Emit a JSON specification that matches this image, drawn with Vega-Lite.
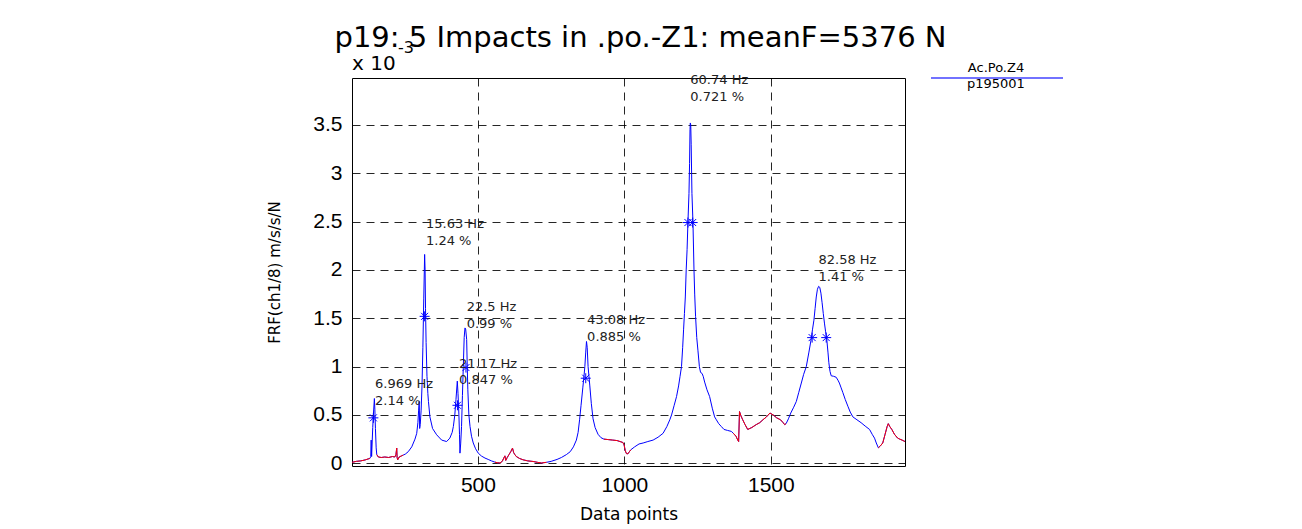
{
  "$schema": "https://vega.github.io/schema/vega-lite/v6.json",
  "width": 553,
  "height": 388,
  "autosize": {"type": "none"},
  "padding": {"left": 352, "top": 78, "right": 397, "bottom": 63},
  "background": "white",
  "title": {
    "text": "p19:  5 Impacts in .po.-Z1: meanF=5376 N",
    "font": "DejaVu Sans",
    "fontSize": 29,
    "fontWeight": "normal",
    "color": "#000",
    "anchor": "middle",
    "baseline": "alphabetic",
    "offset": -36,
    "dx": 12
  },
  "config": {
    "view": {"stroke": "#000", "strokeWidth": 1},
    "axis": {
      "grid": true,
      "gridColor": "#000",
      "gridDash": [8, 6],
      "gridWidth": 1,
      "gridOpacity": 0.85,
      "ticks": false,
      "domain": false,
      "labelFont": "Liberation Sans",
      "labelFontSize": 21,
      "labelColor": "#000",
      "titleFont": "DejaVu Sans",
      "titleFontWeight": "normal",
      "titleColor": "#000"
    },
    "axisX": {"labelPadding": 8, "titleFontSize": 17, "titlePadding": 11},
    "axisY": {"labelPadding": 10, "titleFontSize": 15, "titlePadding": 30}
  },
  "datasets": {
    "curve": [
      {"x":70,"y":0.01,"s":"r1"},{"x":85,"y":0.02,"s":"r1"},{"x":100,"y":0.025,"s":"r1"},{"x":115,"y":0.035,"s":"r1"},{"x":125,"y":0.045,"s":"r1"},{"x":131,"y":0.05,"s":"r1"},
      {"x":134,"y":0.07,"s":"b"},{"x":135.5,"y":0.24,"s":"b"},{"x":137,"y":0.07,"s":"b"},{"x":140.8,"y":0.37,"s":"b"},{"x":143,"y":0.5,"s":"b"},{"x":146.4,"y":0.67,"s":"b"},{"x":148,"y":0.56,"s":"b"},{"x":150,"y":0.36,"s":"b"},{"x":152.5,"y":0.16,"s":"b"},
      {"x":154.6,"y":0.09,"s":"r2"},{"x":160,"y":0.065,"s":"r2"},{"x":170,"y":0.06,"s":"r2"},{"x":182,"y":0.065,"s":"r2"},{"x":195,"y":0.06,"s":"r2"},{"x":208,"y":0.07,"s":"r2"},{"x":216,"y":0.065,"s":"r2"},{"x":220,"y":0.09,"s":"r2"},{"x":222.7,"y":0.157,"s":"r2"},{"x":224,"y":0.06,"s":"r2"},{"x":226,"y":0.036,"s":"r2"},{"x":231,"y":0.065,"s":"r2"},{"x":238,"y":0.075,"s":"r2"},{"x":245,"y":0.085,"s":"r2"},
      {"x":252,"y":0.095,"s":"b"},{"x":262,"y":0.12,"s":"b"},{"x":274,"y":0.17,"s":"b"},{"x":285,"y":0.25,"s":"b"},{"x":291,"y":0.31,"s":"b"},{"x":295,"y":0.42,"s":"b"},{"x":297.5,"y":0.55,"s":"b"},{"x":299.5,"y":0.64,"s":"b"},{"x":301,"y":0.36,"s":"b"},{"x":303,"y":0.4,"s":"b"},{"x":306,"y":0.55,"s":"b"},{"x":309,"y":0.8,"s":"b"},{"x":312,"y":1.2,"s":"b"},{"x":315,"y":1.7,"s":"b"},{"x":318,"y":2.16,"s":"b"},{"x":319.5,"y":2.0,"s":"b"},{"x":321,"y":1.6,"s":"b"},{"x":323,"y":1.25,"s":"b"},{"x":326,"y":0.9,"s":"b"},{"x":329,"y":0.72,"s":"b"},{"x":331,"y":0.64,"s":"b"},{"x":336,"y":0.48,"s":"b"},{"x":345,"y":0.36,"s":"b"},{"x":359,"y":0.295,"s":"b"},{"x":376,"y":0.24,"s":"b"},{"x":393,"y":0.225,"s":"b"},{"x":404,"y":0.26,"s":"b"},{"x":412,"y":0.32,"s":"b"},{"x":416,"y":0.38,"s":"b"},{"x":421,"y":0.5,"s":"b"},{"x":425,"y":0.66,"s":"b"},{"x":429.5,"y":0.85,"s":"b"},{"x":432,"y":0.72,"s":"b"},{"x":435,"y":0.5,"s":"b"},{"x":437,"y":0.3,"s":"b"},{"x":438.6,"y":0.105,"s":"b"},{"x":441,"y":0.2,"s":"b"},{"x":444,"y":0.38,"s":"b"},{"x":447,"y":0.7,"s":"b"},{"x":450,"y":1.0,"s":"b"},{"x":453,"y":1.3,"s":"b"},{"x":455.7,"y":1.4,"s":"b"},{"x":458,"y":1.39,"s":"b"},{"x":461.5,"y":1.28,"s":"b"},{"x":463.5,"y":1.0,"s":"b"},{"x":465.5,"y":0.76,"s":"b"},{"x":469,"y":0.5,"s":"b"},{"x":473,"y":0.38,"s":"b"},{"x":478,"y":0.28,"s":"b"},{"x":484,"y":0.21,"s":"b"},{"x":492,"y":0.15,"s":"b"},{"x":501,"y":0.105,"s":"b"},{"x":512,"y":0.075,"s":"b"},{"x":524,"y":0.054,"s":"b"},{"x":535,"y":0.04,"s":"b"},{"x":546,"y":0.025,"s":"b"},
      {"x":558,"y":0.012,"s":"r3"},{"x":566,"y":0.006,"s":"r3"},{"x":575,"y":0.003,"s":"r3"},{"x":583,"y":0.02,"s":"r3"},{"x":589,"y":0.06,"s":"r3"},{"x":592,"y":0.077,"s":"r3"},{"x":595,"y":0.03,"s":"r3"},{"x":600,"y":0.06,"s":"r3"},{"x":606,"y":0.09,"s":"r3"},{"x":612,"y":0.12,"s":"r3"},{"x":618,"y":0.157,"s":"r3"},{"x":622,"y":0.11,"s":"r3"},{"x":626,"y":0.09,"s":"r3"},{"x":631,"y":0.07,"s":"r3"},{"x":642,"y":0.05,"s":"r3"},{"x":654,"y":0.036,"s":"r3"},{"x":670,"y":0.025,"s":"r3"},{"x":688,"y":0.019,"s":"r3"},{"x":703,"y":0.01,"s":"r3"},{"x":717,"y":0.003,"s":"r3"},{"x":734,"y":0.01,"s":"r3"},
      {"x":750,"y":0.02,"s":"b"},{"x":770,"y":0.04,"s":"b"},{"x":785,"y":0.06,"s":"b"},{"x":802,"y":0.09,"s":"b"},{"x":815,"y":0.12,"s":"b"},{"x":826,"y":0.17,"s":"b"},{"x":836,"y":0.24,"s":"b"},{"x":842,"y":0.32,"s":"b"},{"x":847,"y":0.45,"s":"b"},{"x":852,"y":0.6,"s":"b"},{"x":858,"y":0.78,"s":"b"},{"x":862,"y":0.9,"s":"b"},{"x":865,"y":1.0,"s":"b"},{"x":868,"y":1.15,"s":"b"},{"x":870.6,"y":1.26,"s":"b"},{"x":873,"y":1.2,"s":"b"},{"x":876,"y":1.0,"s":"b"},{"x":879,"y":0.9,"s":"b"},{"x":882,"y":0.8,"s":"b"},{"x":887,"y":0.62,"s":"b"},{"x":893,"y":0.46,"s":"b"},{"x":900,"y":0.37,"s":"b"},{"x":910,"y":0.3,"s":"b"},{"x":920,"y":0.265,"s":"b"},
      {"x":930,"y":0.25,"s":"r4"},{"x":945,"y":0.245,"s":"r4"},{"x":960,"y":0.24,"s":"r4"},{"x":975,"y":0.235,"s":"r4"},{"x":985,"y":0.225,"s":"r4"},{"x":995,"y":0.215,"s":"r4"},{"x":999,"y":0.19,"s":"r4"},{"x":1003,"y":0.13,"s":"r4"},{"x":1007,"y":0.1,"s":"r4"},{"x":1012,"y":0.098,"s":"r4"},{"x":1017,"y":0.12,"s":"r4"},{"x":1022,"y":0.14,"s":"r4"},
      {"x":1035,"y":0.17,"s":"b"},{"x":1050,"y":0.2,"s":"b"},{"x":1064,"y":0.21,"s":"b"},{"x":1080,"y":0.225,"s":"b"},{"x":1098,"y":0.24,"s":"b"},{"x":1115,"y":0.27,"s":"b"},{"x":1132,"y":0.31,"s":"b"},{"x":1145,"y":0.38,"s":"b"},{"x":1155,"y":0.45,"s":"b"},{"x":1161,"y":0.5,"s":"b"},{"x":1170,"y":0.6,"s":"b"},{"x":1178,"y":0.69,"s":"b"},{"x":1185,"y":0.8,"s":"b"},{"x":1190,"y":0.9,"s":"b"},{"x":1195,"y":1.0,"s":"b"},{"x":1199,"y":1.2,"s":"b"},{"x":1202,"y":1.38,"s":"b"},{"x":1205,"y":1.55,"s":"b"},{"x":1208,"y":1.72,"s":"b"},{"x":1211,"y":2.0,"s":"b"},{"x":1214,"y":2.21,"s":"b"},{"x":1217,"y":2.5,"s":"b"},{"x":1220.5,"y":2.79,"s":"b"},{"x":1222.5,"y":3.1,"s":"b"},{"x":1224,"y":3.45,"s":"b"},{"x":1225,"y":3.52,"s":"b"},{"x":1226.5,"y":3.5,"s":"b"},{"x":1228,"y":3.3,"s":"b"},{"x":1229.5,"y":3.0,"s":"b"},{"x":1230.6,"y":2.79,"s":"b"},{"x":1234,"y":2.5,"s":"b"},{"x":1237.6,"y":2.0,"s":"b"},{"x":1240,"y":1.75,"s":"b"},{"x":1243,"y":1.52,"s":"b"},{"x":1247,"y":1.3,"s":"b"},{"x":1251,"y":1.17,"s":"b"},{"x":1256,"y":1.0,"s":"b"},{"x":1260,"y":0.94,"s":"b"},{"x":1265,"y":0.93,"s":"b"},{"x":1269,"y":0.9,"s":"b"},{"x":1274,"y":0.84,"s":"b"},{"x":1282,"y":0.76,"s":"b"},{"x":1291,"y":0.69,"s":"b"},{"x":1300,"y":0.57,"s":"b"},{"x":1308,"y":0.48,"s":"b"},{"x":1314,"y":0.45,"s":"b"},{"x":1322,"y":0.41,"s":"b"},{"x":1331,"y":0.38,"s":"b"},{"x":1340,"y":0.35,"s":"b"},{"x":1352,"y":0.34,"s":"b"},{"x":1365,"y":0.33,"s":"b"},
      {"x":1372,"y":0.31,"s":"r5"},{"x":1381,"y":0.28,"s":"r5"},{"x":1387,"y":0.24,"s":"r5"},{"x":1390,"y":0.225,"s":"r5"},{"x":1393,"y":0.535,"s":"r5"},{"x":1398,"y":0.49,"s":"r5"},{"x":1404,"y":0.45,"s":"r5"},{"x":1412,"y":0.4,"s":"r5"},{"x":1421,"y":0.35,"s":"r5"},{"x":1435,"y":0.37,"s":"r5"},{"x":1450,"y":0.4,"s":"r5"},{"x":1462,"y":0.42,"s":"r5"},{"x":1473,"y":0.45,"s":"r5"},{"x":1485,"y":0.48,"s":"r5"},{"x":1497,"y":0.52,"s":"r5"},{"x":1508,"y":0.5,"s":"r5"},{"x":1520,"y":0.47,"s":"r5"},{"x":1533,"y":0.45,"s":"r5"},{"x":1542,"y":0.42,"s":"r5"},{"x":1547,"y":0.4,"s":"r5"},{"x":1552,"y":0.41,"s":"r5"},
      {"x":1560,"y":0.46,"s":"b"},{"x":1568,"y":0.52,"s":"b"},{"x":1578,"y":0.58,"s":"b"},{"x":1587,"y":0.64,"s":"b"},{"x":1595,"y":0.73,"s":"b"},{"x":1604,"y":0.83,"s":"b"},{"x":1612,"y":0.92,"s":"b"},{"x":1621,"y":1.0,"s":"b"},{"x":1630,"y":1.15,"s":"b"},{"x":1638,"y":1.29,"s":"b"},{"x":1642,"y":1.38,"s":"b"},{"x":1647,"y":1.48,"s":"b"},{"x":1651,"y":1.6,"s":"b"},{"x":1655,"y":1.72,"s":"b"},{"x":1659,"y":1.8,"s":"b"},{"x":1663,"y":1.83,"s":"b"},{"x":1667,"y":1.82,"s":"b"},{"x":1671,"y":1.76,"s":"b"},{"x":1675,"y":1.66,"s":"b"},{"x":1679,"y":1.55,"s":"b"},{"x":1683,"y":1.45,"s":"b"},{"x":1687,"y":1.36,"s":"b"},{"x":1691,"y":1.28,"s":"b"},{"x":1695,"y":1.15,"s":"b"},{"x":1698,"y":1.04,"s":"b"},{"x":1702,"y":0.95,"s":"b"},{"x":1706,"y":0.905,"s":"b"},{"x":1714,"y":0.9,"s":"b"},{"x":1723,"y":0.89,"s":"b"},{"x":1729,"y":0.86,"s":"b"},{"x":1734,"y":0.83,"s":"b"},{"x":1740,"y":0.78,"s":"b"},{"x":1746,"y":0.73,"s":"b"},{"x":1754,"y":0.66,"s":"b"},{"x":1763,"y":0.59,"s":"b"},{"x":1771,"y":0.53,"s":"b"},{"x":1780,"y":0.48,"s":"b"},{"x":1794,"y":0.45,"s":"b"},{"x":1808,"y":0.42,"s":"b"},{"x":1822,"y":0.385,"s":"b"},{"x":1837,"y":0.35,"s":"b"},{"x":1846,"y":0.3,"s":"b"},{"x":1854,"y":0.26,"s":"b"},{"x":1860,"y":0.21,"s":"b"},
      {"x":1867,"y":0.16,"s":"r6"},{"x":1874,"y":0.18,"s":"r6"},{"x":1882,"y":0.21,"s":"r6"},{"x":1890,"y":0.3,"s":"r6"},{"x":1897,"y":0.38,"s":"r6"},{"x":1901,"y":0.41,"s":"r6"},{"x":1906,"y":0.38,"s":"r6"},{"x":1913,"y":0.35,"s":"r6"},{"x":1922,"y":0.3,"s":"r6"},{"x":1933,"y":0.26,"s":"r6"},{"x":1940,"y":0.25,"s":"r6"},{"x":1948,"y":0.24,"s":"r6"},{"x":1958,"y":0.225,"s":"r6"}
    ],
    "markers": [
      {"x":143,"y":0.47},{"x":318,"y":1.52},{"x":430,"y":0.6},{"x":459,"y":0.99},{"x":868,"y":0.88},{"x":1217,"y":2.49},{"x":1233,"y":2.49},{"x":1641,"y":1.3},{"x":1689,"y":1.3}
    ],
    "labels": [
      {"x":148.8,"y":0.776,"t":"6.969 Hz\n2.14 %"},
      {"x":322.7,"y":2.43,"t":"15.63 Hz\n1.24 %"},
      {"x":461.5,"y":1.575,"t":"22.5 Hz\n0.99 %"},
      {"x":435.4,"y":0.99,"t":"21.17 Hz\n0.847 %"},
      {"x":872.7,"y":1.44,"t":"43.08 Hz\n0.885 %"},
      {"x":1225,"y":3.92,"t":"60.74 Hz\n0.721 %"},
      {"x":1662.6,"y":2.06,"t":"82.58 Hz\n1.41 %"}
    ],
    "corner": [{"x":70,"y":3.985}]
  },
  "encoding": {
    "x": {"field":"x","type":"quantitative","scale":{"domain":[70,1958],"nice":false,"zero":false},"axis":{"values":[500,1000,1500],"format":"d","title":"Data points"}},
    "y": {"field":"y","type":"quantitative","scale":{"domain":[-0.028,3.985],"nice":false,"zero":false},"axis":{"values":[0,0.5,1,1.5,2,2.5,3,3.5],"format":"~g","title":"FRF(ch1/8) m/s/s/N"}}
  },
  "layer": [
    {
      "data": {"name": "curve"},
      "mark": {"type": "line", "strokeWidth": 1},
      "encoding": {
        "color": {
          "datum": "p195001",
          "type": "nominal",
          "scale": {"domain": ["p195001"], "range": ["#0000ff"]},
          "legend": {
            "title": "Ac.Po.Z4",
            "orient": "none",
            "legendX": 578,
            "legendY": -16,
            "symbolType": "stroke",
            "symbolSize": 30976,
            "symbolStrokeWidth": 2,
            "symbolOpacity": 0.55,
            "clipHeight": 6,
            "labelOffset": -141,
            "labelAlign": "left",
            "labelBaseline": "top",
            "labelExpr": "datum.label + '\u2800\u2800\u2800\u2800'",
            "labelLimit": 300,
            "labelFont": "DejaVu Sans",
            "labelFontSize": 13,
            "labelColor": "#000",
            "titleFont": "DejaVu Sans",
            "titleFontSize": 13,
            "titleFontWeight": "normal",
            "titleColor": "#000",
            "titleAnchor": "middle",
            "titlePadding": 0,
            "padding": 0
          }
        }
      }
    },
    {
      "data": {"name": "curve"},
      "transform": [{"filter": "datum.s != 'b'"}],
      "mark": {"type": "line", "color": "#ff0000", "strokeWidth": 1},
      "encoding": {"detail": {"field": "s"}}
    },
    {
      "data": {"name": "markers"},
      "mark": {"type": "point", "shape": "M-1,0H1M0,-1V1M-0.7,-0.7L0.7,0.7M-0.7,0.7L0.7,-0.7", "size": 100, "filled": false, "color": "#0000ff", "strokeWidth": 1, "opacity": 1}
    },
    {
      "data": {"name": "labels"},
      "mark": {"type": "text", "align": "left", "baseline": "alphabetic", "font": "DejaVu Sans", "fontSize": 13, "lineBreak": "\n", "lineHeight": 16.5, "color": "#222"},
      "encoding": {"text": {"field": "t"}}
    },
    {
      "data": {"name": "corner"},
      "mark": {"type": "text", "text": "x 10", "align": "left", "baseline": "alphabetic", "dy": -8, "font": "DejaVu Sans", "fontSize": 20, "color": "#000"}
    },
    {
      "data": {"name": "corner"},
      "mark": {"type": "text", "text": "-3", "align": "left", "baseline": "alphabetic", "dx": 46, "dy": -25, "font": "DejaVu Sans", "fontSize": 16, "color": "#000"}
    }
  ]
}
